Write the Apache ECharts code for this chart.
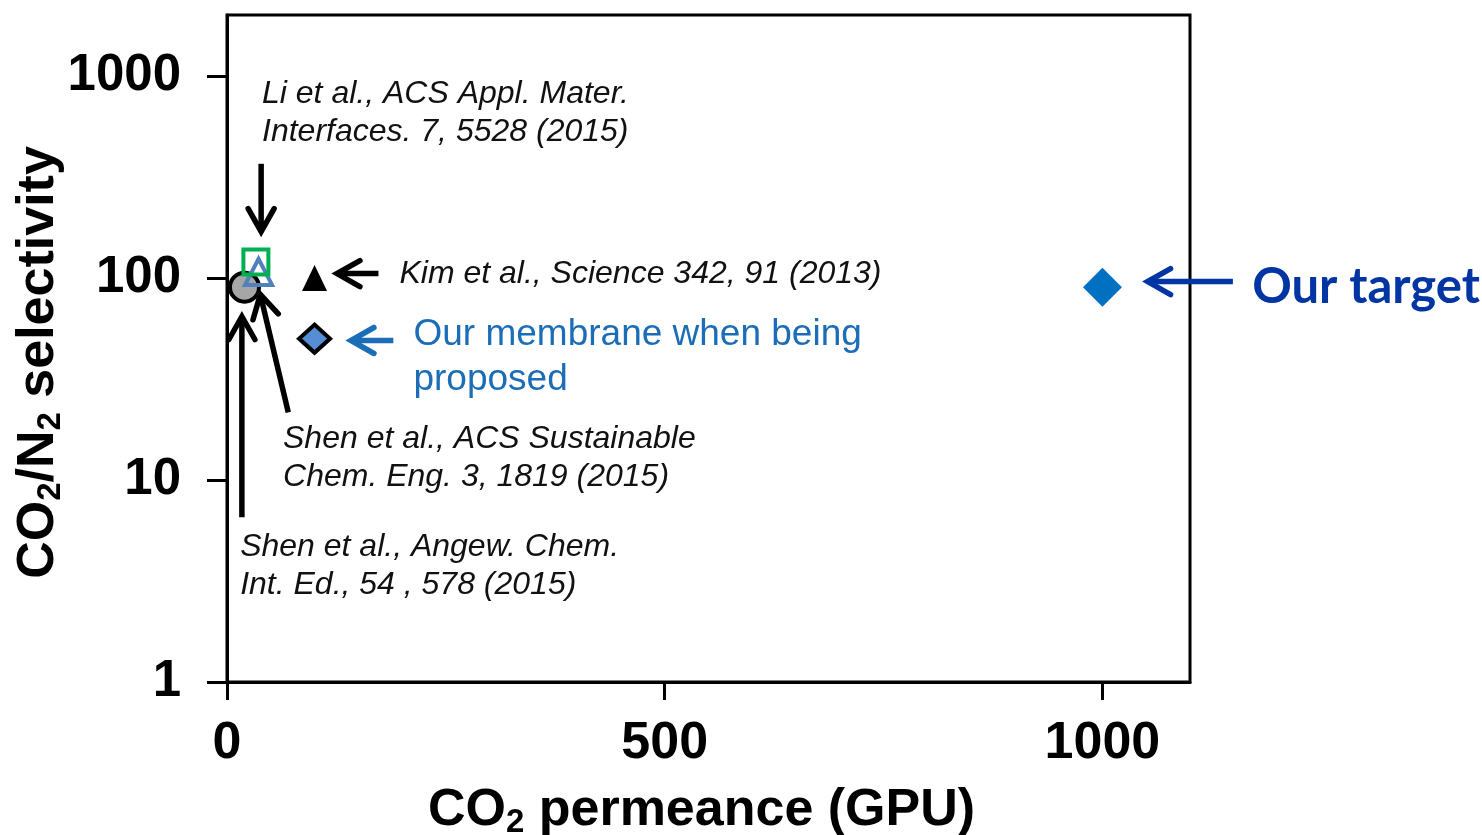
<!DOCTYPE html>
<html>
<head>
<meta charset="utf-8">
<script src="https://cdn.jsdelivr.net/npm/echarts@6/dist/echarts.min.js"></script>
<style>
  html, body { margin: 0; padding: 0; background: #fff; }
  #chart { width: 1482px; height: 835px; }
</style>
</head>
<body>
<div id="chart"></div>
<script>
// Membranes compared: CO2 permeance (GPU) vs. CO2/N2 selectivity
const membranes = ['Shen Angew 2015', 'Shen ACS Sust 2015', 'Li ACS AMI 2015', 'Kim Science 2013', 'Our membrane', 'Our target'];
const permeance = [20, 36, 33, 100, 100, 1000];
const selectivity = [90, 107, 120, 100, 50, 90];

const xTicks = [0, 500, 1000];
const yTicks = [1, 10, 100, 1000];

// Annotation notes and the arrows that point from them to the markers (data units)
const noteTexts = [
  'Li et al., ACS Appl. Mater.\nInterfaces. 7, 5528 (2015)',
  'Kim et al., Science 342, 91 (2013)',
  'Our membrane when being\nproposed',
  'Our target',
  'Shen et al., ACS Sustainable\nChem. Eng. 3, 1819 (2015)',
  'Shen et al., Angew. Chem.\nInt. Ed., 54 , 578 (2015)'
];
const noteAnchors = [[40, 656], [197, 105], [213, 40.6], [1171, 89.6], [64, 12.9], [15, 3.74]];
const arrowTails = [[39, 367], [173, 105], [190, 49], [1149, 95.9], [70, 21.6], [17, 6.54]];
const arrowTips  = [[39, 162], [121, 105], [137, 49], [1047, 95.9], [37, 86.6], [17, 67.4]];

const ITALIC = 'italic 32px "Liberation Sans", Arial, sans-serif';
const noteStyles = [
  { font: ITALIC, fill: '#111', lineHeight: 38 },
  { font: ITALIC, fill: '#111', lineHeight: 38 },
  { font: '37px "Liberation Sans", Arial, sans-serif', fill: '#1a6db6', lineHeight: 45 },
  { font: 'bold 49px Lato, "Open Sans", sans-serif', fill: '#0035a3', lineHeight: 54 },
  { font: ITALIC, fill: '#111', lineHeight: 38 },
  { font: ITALIC, fill: '#111', lineHeight: 38 }
];
const arrowColors = ['#000', '#000', '#1a6db6', '#0035a3', '#000', '#000'];

const chart = echarts.init(document.getElementById('chart'), null, { renderer: 'canvas' });

const SANS = '"Liberation Sans", Arial, sans-serif';

function point(i) { return [[permeance[i], selectivity[i]]]; }

const markerSeries = [
  { name: membranes[0], symbol: 'circle', symbolSize: 29,
    itemStyle: { color: '#a6a6a6', borderColor: '#000', borderWidth: 4 } },
  { name: membranes[2], symbol: 'rect', symbolSize: 25,
    itemStyle: { color: 'rgba(255,255,255,0)', borderColor: '#00b050', borderWidth: 4 } },
  { name: membranes[1], symbol: 'triangle', symbolSize: [27, 26],
    itemStyle: { color: 'rgba(255,255,255,0)', borderColor: '#4f81bd', borderWidth: 4 } },
  { name: membranes[3], symbol: 'triangle', symbolSize: [25, 26],
    itemStyle: { color: '#000' } },
  { name: membranes[4], symbol: 'diamond', symbolSize: [31, 28],
    itemStyle: { color: '#558ed5', borderColor: '#000', borderWidth: 4 } },
  { name: membranes[5], symbol: 'diamond', symbolSize: 39,
    itemStyle: { color: '#0070c0' } }
].map(s => {
  const idx = membranes.indexOf(s.name);
  s.itemStyle.opacity = 1;
  return Object.assign({
    type: 'scatter',
    data: point(idx),
    z: 5 + idx,
    emphasis: { disabled: true },
    silent: true
  }, s);
});

// Arrows: a straight shaft with an open chevron head at the tip
const arrowSeries = {
  type: 'custom',
  clip: false,
  silent: true,
  z: 4,
  data: arrowTails.map((t, i) => [t[0], t[1], arrowTips[i][0], arrowTips[i][1], i]),
  renderItem: function (params, api) {
    const a = api.coord([api.value(0), api.value(1)]);
    const b = api.coord([api.value(2), api.value(3)]);
    const i = api.value(4);
    const dx = b[0] - a[0], dy = b[1] - a[1];
    const len = Math.sqrt(dx * dx + dy * dy);
    const ux = dx / len, uy = dy / len;
    const px = -uy, py = ux;
    const lw = 5.5;
    const tip = [b[0] - ux * 4, b[1] - uy * 4];
    const back = 23, half = 13;
    const arm1 = [tip[0] - ux * back + px * half, tip[1] - uy * back + py * half];
    const arm2 = [tip[0] - ux * back - px * half, tip[1] - uy * back - py * half];
    const color = arrowColors[i];
    return {
      type: 'group',
      children: [
        { type: 'line', shape: { x1: a[0], y1: a[1], x2: tip[0] - ux * 3, y2: tip[1] - uy * 3 },
          style: { stroke: color, lineWidth: lw, lineCap: 'butt' } },
        { type: 'polyline', shape: { points: [arm1, tip, arm2] },
          style: { stroke: color, lineWidth: lw, fill: null, lineJoin: 'miter', lineCap: 'round' } }
      ]
    };
  }
};

// Text notes anchored in data space
const noteSeries = {
  type: 'custom',
  clip: false,
  silent: true,
  z: 4,
  data: noteAnchors.map((p, i) => [p[0], p[1], i]),
  renderItem: function (params, api) {
    const p = api.coord([api.value(0), api.value(1)]);
    const i = api.value(2);
    const st = noteStyles[i];
    return {
      type: 'text',
      x: p[0], y: p[1],
      style: {
        text: noteTexts[i],
        font: st.font,
        fill: st.fill,
        lineHeight: st.lineHeight,
        align: 'left',
        verticalAlign: 'middle'
      }
    };
  }
};

const richTitle = {
  m: { fontFamily: SANS, fontWeight: 'bold', fontSize: 52, lineHeight: 56, color: '#000' },
  s: { fontFamily: SANS, fontWeight: 'bold', fontSize: 33, lineHeight: 14, verticalAlign: 'bottom', color: '#000' }
};

chart.setOption({
  animation: false,
  backgroundColor: '#fff',
  grid: {
    left: 227, right: 292, top: 15, bottom: 153,
    containLabel: false,
    outerBoundsMode: 'none',
    show: true, borderColor: '#000', borderWidth: 3, backgroundColor: 'transparent'
  },
  xAxis: {
    type: 'value',
    min: 0, max: 1100,
    name: '{m|CO}{s|2}{m| permeance (GPU)}',
    nameLocation: 'middle',
    nameGap: 101,
    nameMoveOverlap: false,
    nameTextStyle: { rich: richTitle, padding: [0, 14, 0, 0] },
    axisLine: { show: true, onZero: false, lineStyle: { color: '#000', width: 3 } },
    axisTick: { show: true, inside: false, length: 18, customValues: xTicks, lineStyle: { color: '#000', width: 3 } },
    axisLabel: {
      customValues: xTicks,
      formatter: v => String(v),
      margin: 36,
      fontFamily: SANS, fontWeight: 'bold', fontSize: 52, color: '#000'
    },
    splitLine: { show: false }
  },
  yAxis: {
    type: 'log',
    logBase: 10,
    min: 1, max: 2000,
    name: '{m|CO}{s|2}{m|/N}{s|2}{m| selectivity}',
    nameLocation: 'middle',
    nameRotate: 90,
    nameGap: 160,
    nameMoveOverlap: false,
    nameTextStyle: { rich: richTitle, padding: [0, 28, 0, 0] },
    axisLine: { show: true, onZero: false, lineStyle: { color: '#000', width: 3 } },
    axisTick: { show: true, inside: false, length: 20, customValues: yTicks, lineStyle: { color: '#000', width: 3 } },
    axisLabel: {
      customValues: yTicks,
      formatter: v => String(v),
      margin: 46,
      fontFamily: SANS, fontWeight: 'bold', fontSize: 51, color: '#000'
    },
    splitLine: { show: false }
  },
  series: [arrowSeries, noteSeries].concat(markerSeries)
});
</script>
</body>
</html>
